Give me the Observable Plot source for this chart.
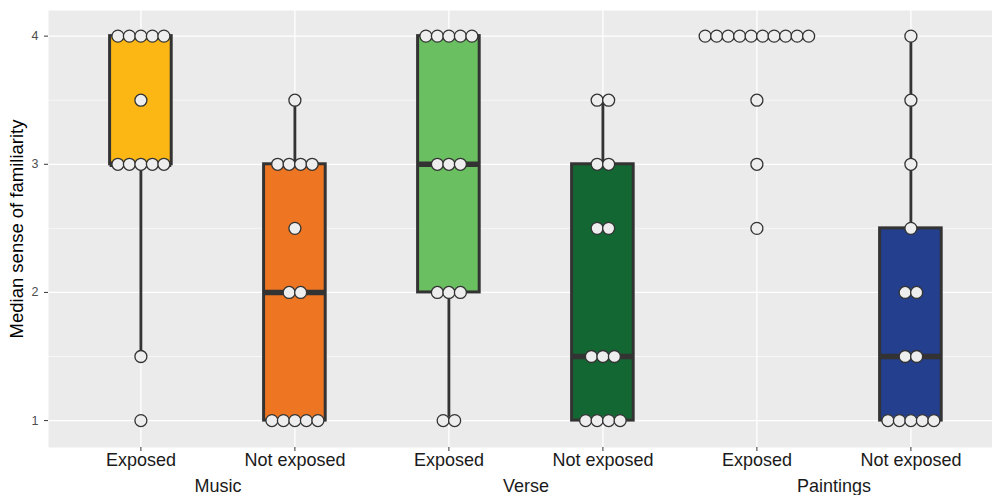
<!DOCTYPE html>
<html><head><meta charset="utf-8">
<script src="https://cdn.jsdelivr.net/npm/d3@7"></script>
<script src="https://cdn.jsdelivr.net/npm/@observablehq/plot@0.6"></script>
<style>
html,body{margin:0;padding:0;background:#fff;overflow:hidden;width:992px;height:495px}
#chart svg{display:block;max-width:none !important;height:495px !important}
</style>
</head><body><div id="chart"></div>
<script>
// ---- data ----
const groups = ["Music", "Verse", "Paintings"];
const conditions = ["Exposed", "Not exposed"];
const boxColors = ["#FDB714", "#EE7623", "#6ABF61", "#136733", "#9ECAE1", "#233F8E"];
const yTicks = [1, 2, 3, 4];
const yMinor = [1.5, 2.5, 3.5];
const yLabel = "Median sense of familiarity";

const musicExposed     = [4, 4, 4, 4, 4, 3.5, 3, 3, 3, 3, 3, 1.5, 1];
const musicNotExposed  = [3.5, 3, 3, 3, 3, 2.5, 2, 2, 1, 1, 1, 1, 1];
const verseExposed     = [4, 4, 4, 4, 4, 3, 3, 3, 2, 2, 2, 1, 1];
const verseNotExposed  = [3.5, 3.5, 3, 3, 2.5, 2.5, 1.5, 1.5, 1.5, 1, 1, 1, 1];
const paintExposed     = [4, 4, 4, 4, 4, 4, 4, 4, 4, 4, 3.5, 3, 2.5];
const paintNotExposed  = [4, 3.5, 3, 2.5, 2, 2, 1.5, 1.5, 1, 1, 1, 1, 1];

const seriesValues = [musicExposed, musicNotExposed, verseExposed, verseNotExposed, paintExposed, paintNotExposed];

// ---- derived tables ----
const series = seriesValues.map((vals, i) => ({
  pos: i + 1,
  group: groups[Math.floor(i / 2)],
  cond: conditions[i % 2],
  color: boxColors[i],
  values: vals
}));

const boxes = series.map(s => {
  const v = [...s.values].sort(d3.ascending);
  const q1 = d3.quantile(v, 0.25), q2 = d3.quantile(v, 0.5), q3 = d3.quantile(v, 0.75);
  const iqr = q3 - q1;
  const lo = d3.min(v.filter(d => d >= q1 - 1.5 * iqr));
  const hi = d3.max(v.filter(d => d <= q3 + 1.5 * iqr));
  return {pos: s.pos, color: s.color, q1, q2, q3, lo, hi};
});

const dots = [];
for (const s of series) {
  const counts = d3.rollup(s.values, g => g.length, d => d);
  for (const [value, n] of counts) {
    for (let k = 0; k < n; k++) dots.push({pos: s.pos, value, off: k - (n - 1) / 2});
  }
}

const groupLabels = groups.map((g, i) => ({label: g, pos: 2 * i + 1.5}));

// ---- layout constants ----
const STEP = 154;
const DOT = 11.5 / STEP;     // dot diameter in x units
const HALF = 0.2;            // half box width in x units
const W = 48 + 6.2 * STEP;

const chart = Plot.plot({
  width: W,
  height: 495,
  marginLeft: 48,
  marginRight: 0,
  marginTop: 10,
  marginBottom: 48,
  style: {fontFamily: "'Liberation Sans', Arial, sans-serif", fontSize: "12px", background: "#fff", overflow: "visible", maxWidth: "none"},
  x: {domain: [0.4, 6.6], axis: null},
  y: {domain: [0.79, 4.2], axis: null},
  color: {type: "identity"},
  marks: [
    Plot.frame({fill: "#EBEBEB", stroke: "none"}),
    Plot.ruleY(yMinor, {stroke: "#fff", strokeWidth: 0.6}),
    Plot.ruleY(yTicks, {stroke: "#fff", strokeWidth: 1.3}),
    Plot.ruleX(series, {x: "pos", stroke: "#fff", strokeWidth: 1.3}),
    Plot.axisY(yTicks, {tickSize: 4, tickPadding: 6, stroke: "#333", fill: "#4D4D4D", fontSize: 12.5,
      tickFormat: d => String(d), label: null}),
    Plot.axisX(series.map(s => s.pos), {tickSize: 4, tickPadding: 2, stroke: "#333", fill: "#1a1a1a", fontSize: 18,
      tickFormat: p => conditions[(p - 1) % 2], label: null}),
    Plot.text([yLabel], {frameAnchor: "left", textAnchor: "middle", lineAnchor: "middle", rotate: -90, dx: -31, dy: 0, fontSize: 18.5, fill: "#000"}),
    Plot.text(groupLabels, {x: "pos", text: "label", frameAnchor: "bottom", dy: 45, fontSize: 18, fill: "#1a1a1a"}),
    Plot.ruleX(boxes, {x: "pos", y1: "lo", y2: "hi", stroke: "#333", strokeWidth: 2.8}),
    Plot.rect(boxes, {x1: d => d.pos - HALF, x2: d => d.pos + HALF, y1: "q1", y2: "q3", fill: "color", stroke: "#333", strokeWidth: 3}),
    Plot.ruleY(boxes, {y: "q2", x1: d => d.pos - HALF, x2: d => d.pos + HALF, stroke: "#333", strokeWidth: 5.5}),
    Plot.dot(dots, {x: d => d.pos + d.off * DOT, y: "value", r: 6, fill: "#EEEEEE", stroke: "#333", strokeWidth: 1.3})
  ]
});
document.getElementById("chart").appendChild(chart);
</script>
</body></html>
